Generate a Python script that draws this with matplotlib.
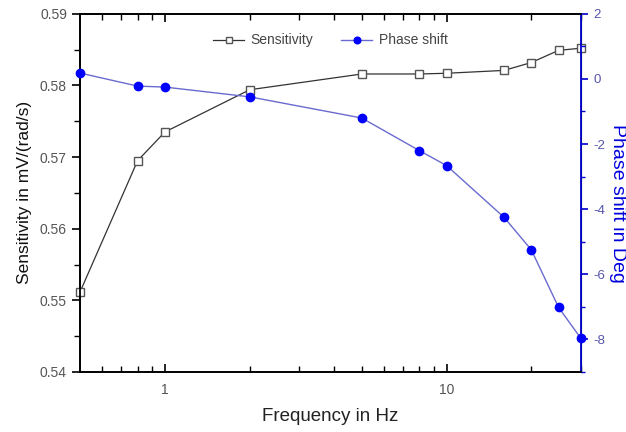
import matplotlib.pyplot as plt
from matplotlib.ticker import FixedLocator, NullFormatter, MultipleLocator

plt.rcParams['font.family'] = ['Liberation Sans', 'DejaVu Sans']
plt.rcParams['axes.unicode_minus'] = False

freq = [0.5, 0.8, 1, 2, 5, 8, 10, 16, 20, 25, 30]
sensitivity = [0.5512, 0.5695, 0.5735, 0.5794, 0.5816, 0.5816, 0.5817, 0.5821, 0.5832, 0.5849, 0.5852]
phase = [0.18, -0.22, -0.25, -0.55, -1.2, -2.2, -2.66, -4.25, -5.25, -7.02, -7.97]

fig = plt.figure(figsize=(6.26, 4.32), dpi=100)
ax = fig.add_axes([0.128, 0.139, 0.8, 0.829])
ax2 = ax.twinx()

l1, = ax.plot(freq, sensitivity, color='#333333', lw=0.9, marker='s', ms=5.5,
              mfc='white', mec='#555555', mew=1.0, label='Sensitivity', clip_on=False, zorder=3)
l2, = ax2.plot(freq, phase, color='#6a6ad0', lw=1.0, marker='o', ms=6,
               mfc='#0000ff', mec='#0000ff', label='Phase shift', clip_on=False, zorder=3)

ax.set_xscale('log')
ax.set_xlim(0.5, 30)
ax.set_ylim(0.54, 0.59)
ax2.set_ylim(-9, 2)

ax.xaxis.set_major_locator(FixedLocator([1, 10]))
ax.xaxis.set_major_formatter(plt.FixedFormatter(['1', '10']))
ax.xaxis.set_minor_locator(FixedLocator([0.6, 0.7, 0.8, 0.9, 2, 3, 4, 5, 6, 7, 8, 9, 20, 30]))
ax.xaxis.set_minor_formatter(NullFormatter())
ax.yaxis.set_major_locator(MultipleLocator(0.01))
ax.yaxis.set_minor_locator(MultipleLocator(0.005))
ax.yaxis.set_major_formatter(plt.FuncFormatter(lambda v, p: '%.2f' % v))
ax2.yaxis.set_major_locator(MultipleLocator(2))
ax2.yaxis.set_minor_locator(MultipleLocator(1))

ax.tick_params(axis='x', which='both', direction='in', top=True, labelsize=10, labelcolor='#555555', pad=8)
ax.tick_params(axis='x', which='major', length=6, width=1.2)
ax.tick_params(axis='x', which='minor', length=4, width=1.0)
ax.tick_params(axis='y', which='major', direction='out', length=6, width=1.2, labelsize=10, labelcolor='#555555')
ax.tick_params(axis='y', which='minor', direction='out', length=4, width=1.0)
ax2.tick_params(axis='y', which='major', direction='out', length=5, width=1.2, colors='#0000cc',
                labelsize=9.5, labelcolor='#5555aa', pad=4)
ax2.tick_params(axis='y', which='minor', direction='out', length=3, width=1.0, colors='#0000cc')

for s in ['left', 'bottom', 'top']:
    ax.spines[s].set_linewidth(1.3)
    ax.spines[s].set_color('#222222')
ax2.spines['right'].set_color('#0000cc')
ax2.spines['right'].set_linewidth(1.3)
ax2.spines['top'].set_linewidth(1.3)
ax2.spines['left'].set_linewidth(1.3)
ax2.spines['bottom'].set_linewidth(1.3)

ax.set_xlabel('Frequency in Hz', fontsize=13.5, color='#222222', labelpad=8)
ax.set_ylabel('Sensitivity in mV/(rad/s)', fontsize=12.5, color='#111111', labelpad=6)
ax2.set_ylabel('Phase shift in Deg', fontsize=14, color='#0000dd', rotation=-90,
               va='center', ha='center')
ax2.yaxis.set_label_coords(1.074, 0.47)

leg = ax.legend([l1, l2], ['Sensitivity', 'Phase shift'], loc='upper center',
                bbox_to_anchor=(0.5, 0.98), ncol=2, frameon=False, fontsize=10,
                handlelength=2.2, columnspacing=2.0, handletextpad=0.5, markerscale=0.8)
for t in leg.get_texts():
    t.set_color('#444444')

fig.savefig('out.png', dpi=100)
